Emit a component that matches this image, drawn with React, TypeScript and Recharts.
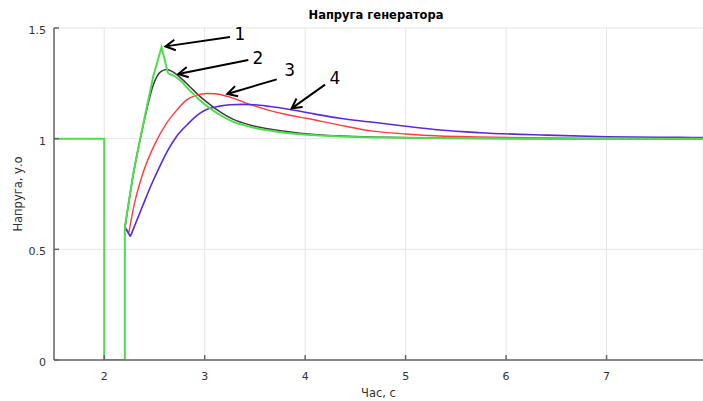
import React from 'react';
import { LineChart, Line, XAxis, YAxis, CartesianGrid, ReferenceLine, ReferenceDot } from 'recharts';

const X_TICKS = [2, 3, 4, 5, 6, 7];
const Y_TICKS = [0, 0.5, 1, 1.5];

// Curve 1 (green): step + sharp peak part, then smooth decay
const curve1StepT = [1.5, 2.0, 2.0, 2.205, 2.205, 2.29, 2.39, 2.49, 2.57, 2.6, 2.635];
const curve1StepV = [1, 1, 0, 0, 0.6, 0.845, 1.07, 1.285, 1.413, 1.36, 1.295];
const curve1TailT = [2.635, 2.7, 2.75, 2.85, 2.95, 3.05, 3.15, 3.28, 3.45, 3.61, 3.8, 3.95, 4.34, 4.8, 5.5, 6.5, 7.96];
const curve1TailV = [1.295, 1.282, 1.266, 1.218, 1.175, 1.138, 1.108, 1.077, 1.054, 1.039, 1.027, 1.02, 1.01, 1.005, 1.002, 1.0, 1.0];

// Curve 2 (black)
const curve2T = [2.207, 2.29, 2.39, 2.49, 2.56, 2.62, 2.68, 2.75, 2.85, 2.95, 3.05, 3.15, 3.28, 3.45, 3.61, 3.8, 3.95, 4.34, 4.8, 5.5, 6.5, 7.96];
const curve2V = [0.6, 0.84, 1.065, 1.245, 1.302, 1.313, 1.303, 1.279, 1.236, 1.192, 1.155, 1.122, 1.088, 1.062, 1.046, 1.033, 1.025, 1.012, 1.006, 1.002, 1.0, 1.0];

// Curve 3 (red)
const curve3T = [2.205, 2.245, 2.3, 2.386, 2.5, 2.619, 2.72, 2.818, 2.92, 3.02, 3.1, 3.25, 3.448, 3.65, 3.846, 4.01, 4.343, 4.675, 5.0, 5.34, 5.74, 6.2, 7.0, 7.96];
const curve3V = [0.6, 0.575, 0.705, 0.845, 0.972, 1.069, 1.128, 1.174, 1.197, 1.204, 1.203, 1.188, 1.155, 1.127, 1.106, 1.092, 1.061, 1.034, 1.021, 1.012, 1.008, 1.004, 1.001, 1.0];

// Curve 4 (blue)
const curve4T = [2.205, 2.26, 2.386, 2.47, 2.552, 2.63, 2.718, 2.83, 2.95, 3.05, 3.149, 3.25, 3.381, 3.5, 3.65, 3.846, 4.1, 4.343, 4.675, 5.0, 5.34, 5.74, 6.4, 7.0, 7.73, 7.96];
const curve4V = [0.6, 0.558, 0.7, 0.793, 0.874, 0.945, 1.009, 1.065, 1.114, 1.137, 1.147, 1.153, 1.155, 1.153, 1.145, 1.132, 1.111, 1.092, 1.074, 1.056, 1.039, 1.027, 1.016, 1.009, 1.006, 1.005];

// Annotation arrows (tail -> head) and numbers
const ARROW_TAIL_T = [3.252, 3.434, 3.717, 4.198];
const ARROW_TAIL_V = [1.459, 1.355, 1.268, 1.244];
const ARROW_HEAD_T = [2.61, 2.737, 3.225, 3.866];
const ARROW_HEAD_V = [1.417, 1.292, 1.202, 1.137];
const LABEL_TEXT = ['1', '2', '3', '4'];
const LABEL_T = [3.35, 3.53, 3.845, 4.297];
const LABEL_V = [1.473, 1.366, 1.31, 1.273];

const toPoints = (t: number[], v: number[]) => t.map((x, i) => ({ t: x, v: v[i] }));

const GREEN = '#4ddd4d';
const BLACK = '#3c3c3c';
const RED = '#ff3c3c';
const BLUE = '#5a2ad8';

const pts2 = toPoints(curve2T, curve2V);
const pts3 = toPoints(curve3T, curve3V);
const pts4 = toPoints(curve4T, curve4V);

const series = [
  { name: '2', data: pts2, color: BLACK, width: 1.5, curve: 'monotone' },
  { name: '3a', data: pts3.slice(0, 2), color: RED, width: 1.4, curve: 'linear' },
  { name: '3b', data: pts3.slice(1), color: RED, width: 1.4, curve: 'monotone' },
  { name: '4a', data: pts4.slice(0, 2), color: BLUE, width: 1.6, curve: 'linear' },
  { name: '4b', data: pts4.slice(1), color: BLUE, width: 1.6, curve: 'monotone' },
  { name: '1a', data: toPoints(curve1StepT, curve1StepV), color: GREEN, width: 2, curve: 'linear' },
  { name: '1b', data: toPoints(curve1TailT, curve1TailV), color: GREEN, width: 2, curve: 'monotone' },
];

const FONT = '"DejaVu Sans", Verdana, sans-serif';

const XTick = (p: any) => {
  const { x, y, payload } = p;
  return (
    <g>
      <line x1={x} y1={y} x2={x} y2={y - 5} stroke="#666" strokeWidth={1.5} />
      <text x={x} y={y + 20} textAnchor="middle" fontSize={11} fontFamily={FONT} fill="#333">
        {payload.value}
      </text>
    </g>
  );
};

const YTick = (p: any) => {
  const { x, y, payload } = p;
  return (
    <g>
      <line x1={x} y1={y} x2={x + 5} y2={y} stroke="#666" strokeWidth={1.5} />
      <text x={x - 8} y={y + 6} textAnchor="end" fontSize={11} fontFamily={FONT} fill="#333">
        {String(payload.value)}
      </text>
    </g>
  );
};

const YLabel = (p: any) => {
  const vb = p.viewBox || {};
  const cx = (vb.x ?? 0) + 18;
  const cy = (vb.y ?? 0) + (vb.height ?? 0) / 2;
  return (
    <text x={cx} y={cy} transform={`rotate(-90 ${cx} ${cy})`} textAnchor="middle" dominantBaseline="central" fontSize={11.5} fontFamily={FONT} fill="#333">
      Напруга, у.о
    </text>
  );
};

const XLabel = (p: any) => {
  const vb = p.viewBox || {};
  const cx = (vb.x ?? 0) + (vb.width ?? 0) / 2;
  const by = (vb.y ?? 0) + 37;
  return (
    <text x={cx} y={by} textAnchor="middle" fontSize={11.5} fontFamily={FONT} fill="#333">
      Час, с
    </text>
  );
};

const ArrowShape = (p: any) => {
  const { x1, y1, x2, y2 } = p;
  const ang = Math.atan2(y2 - y1, x2 - x1);
  const L = 11;
  const a = 0.5;
  const ax1 = x2 - L * Math.cos(ang - a);
  const ay1 = y2 - L * Math.sin(ang - a);
  const ax2 = x2 - L * Math.cos(ang + a);
  const ay2 = y2 - L * Math.sin(ang + a);
  return (
    <g>
      <line x1={x1} y1={y1} x2={x2} y2={y2} stroke="#000" strokeWidth={2} />
      <polyline points={`${ax1},${ay1} ${x2},${y2} ${ax2},${ay2}`} fill="none" stroke="#000" strokeWidth={2} />
    </g>
  );
};

const makeNumberShape = (txt: string) => (p: any) => (
  <text x={p.cx} y={p.cy} textAnchor="middle" dominantBaseline="central" fontSize={17} fontFamily={FONT} fill="#000">
    {txt}
  </text>
);

export default function App() {
  return (
    <div style={{ position: 'absolute', left: 0, top: 0, width: 703, height: 401, background: '#fff' }}>
      <div
        style={{
          position: 'absolute',
          left: 0,
          top: 8,
          width: 752,
          textAlign: 'center',
          fontFamily: FONT,
          fontWeight: 'bold',
          fontSize: 11.5,
          lineHeight: '14px',
          color: '#000',
        }}
      >
        Напруга генератора
      </div>
      <LineChart width={703} height={401} margin={{ top: 28, right: 0, bottom: 0, left: 0 }}>
        <CartesianGrid stroke="#e6e6e6" strokeWidth={1} />
        <XAxis
          type="number"
          dataKey="t"
          domain={[1.5, 7.96]}
          ticks={X_TICKS}
          allowDataOverflow
          height={41}
          tickSize={0}
          tickMargin={0}
          tick={<XTick />}
          axisLine={{ stroke: '#666', strokeWidth: 1.5 }}
          label={<XLabel />}
        />
        <YAxis
          type="number"
          domain={[0, 1.5]}
          ticks={Y_TICKS}
          allowDataOverflow
          width={54}
          tickSize={0}
          tickMargin={0}
          tick={<YTick />}
          axisLine={{ stroke: '#666', strokeWidth: 1.5 }}
          label={<YLabel />}
        />
        {series.map((s) => (
          <Line
            key={s.name}
            data={s.data}
            dataKey="v"
            type={s.curve as any}
            stroke={s.color}
            strokeWidth={s.width}
            dot={false}
            activeDot={false}
            isAnimationActive={false}
          />
        ))}
        {LABEL_TEXT.map((txt, i) => (
          <ReferenceLine
            key={'a' + txt}
            segment={[
              { x: ARROW_TAIL_T[i], y: ARROW_TAIL_V[i] },
              { x: ARROW_HEAD_T[i], y: ARROW_HEAD_V[i] },
            ]}
            ifOverflow="visible"
            shape={ArrowShape}
          />
        ))}
        {LABEL_TEXT.map((txt, i) => (
          <ReferenceDot
            key={'n' + txt}
            x={LABEL_T[i]}
            y={LABEL_V[i]}
            r={0}
            ifOverflow="visible"
            shape={makeNumberShape(txt)}
          />
        ))}
      </LineChart>
    </div>
  );
}
